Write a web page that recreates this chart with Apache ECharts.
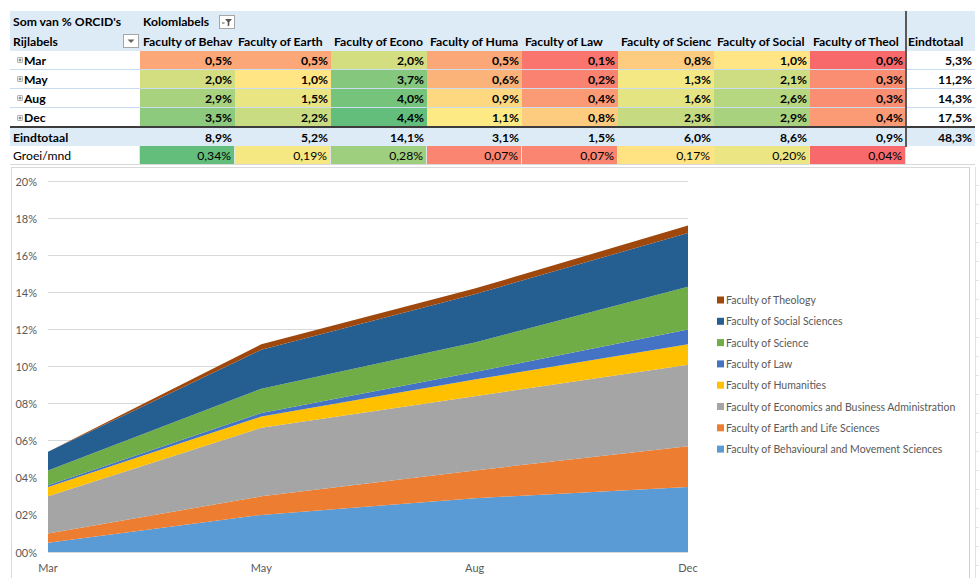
<!DOCTYPE html>
<html>
<head>
<meta charset="utf-8">
<script src="https://cdn.jsdelivr.net/npm/echarts@6/dist/echarts.min.js"></script>
<style>
html, body { margin: 0; padding: 0; background: #fff; }
body { width: 979px; height: 578px; position: relative; overflow: hidden; font-family: Lato, 'Open Sans', sans-serif; }
#pivot {
  position: absolute; left: 10px; top: 11px;
  display: grid;
  grid-template-columns: 130px 95px 96px 96px 95px 96px 96px 96px 96px 69px;
  grid-template-rows: 21px;
  grid-auto-rows: 19px;
  font-size: 12.2px; color: #000;
}
.c {
  box-sizing: border-box; white-space: nowrap; overflow: hidden;
  display: flex; align-items: center; padding: 0 3px;
  border-bottom: 1px solid #c9dcf0; position: relative;
}
.hd { background: #ddebf7; font-weight: bold; border-bottom: none; }
.num { justify-content: flex-end; font-weight: bold; }
.lbl { font-weight: bold; }
.tot { background: #ddebf7; }
.grow { font-weight: normal; border-bottom: 1px solid #d9d9d9; border-right: 1px solid #e4e4e4; }
.plus { display: inline-block; width: 6px; height: 6px; margin: 0 1px 0 0; flex: none; }
.icon { position: absolute; top: 2px; }
#darkv { position: absolute; left: 905px; top: 11px; width: 1.5px; height: 136px; background: #5a5a5a; }
#darkh { position: absolute; left: 10px; top: 126px; width: 965px; height: 1.5px; background: #3c3c3c; }
#chart { position: absolute; left: 11px; top: 167px; width: 959px; height: 411px;
  border-left: 1px solid #d9d9d9; border-top: 1px solid #d9d9d9; border-right: 1px solid #d0d0d0; box-sizing: border-box; }
#cells { position: absolute; left: 975px; top: 167px; width: 4px; height: 411px; border-left: 1px solid #e2e2e2;
  background: repeating-linear-gradient(to bottom, transparent 0 18px, #e2e2e2 18px 19px); }
</style>
</head>
<body>
<div id="pivot"></div>
<div id="darkv"></div>
<div id="darkh"></div>
<div id="chart"></div>
<div id="cells"></div>
<script>
// maanden en faculteiten
const months = ['Mar', 'May', 'Aug', 'Dec'];
const faculties = [
  'Faculty of Behavioural and Movement Sciences',
  'Faculty of Earth and Life Sciences',
  'Faculty of Economics and Business Administration',
  'Faculty of Humanities',
  'Faculty of Law',
  'Faculty of Science',
  'Faculty of Social Sciences',
  'Faculty of Theology'
];
// kolomkoppen zoals ze in de smalle kolommen zichtbaar zijn
const headerLabels = [
  'Faculty of Behav', 'Faculty of Earth', 'Faculty of Econo', 'Faculty of Huma',
  'Faculty of Law', 'Faculty of Scienc', 'Faculty of Social', 'Faculty of Theol'
];

// % ORCID's per maand (Mar, May, Aug, Dec)
const behavioural = [0.5, 2.0, 2.9, 3.5];
const earth = [0.5, 1.0, 1.5, 2.2];
const economics = [2.0, 3.7, 4.0, 4.4];
const humanities = [0.5, 0.6, 0.9, 1.1];
const law = [0.1, 0.2, 0.4, 0.8];
const science = [0.8, 1.3, 1.6, 2.3];
const social = [1.0, 2.1, 2.6, 2.9];
const theology = [0.0, 0.3, 0.3, 0.4];

const rowTotals = [5.3, 11.2, 14.3, 17.5];
const colTotals = [8.9, 5.2, 14.1, 3.1, 1.5, 6.0, 8.6, 0.9];
const grandTotal = 48.3;
const growth = [0.34, 0.19, 0.28, 0.07, 0.07, 0.17, 0.20, 0.04];

const yTicks = { min: 0, max: 20, interval: 2 };

const series = [behavioural, earth, economics, humanities, law, science, social, theology];
const colors = ['#5b9bd5', '#ed7d31', '#a5a5a5', '#ffc000', '#4472c4', '#70ad47', '#255e91', '#9e480e'];

// excel 3-kleurenschaal (rood - geel - groen, midden = 50e percentiel)
const RED = [248, 105, 107], YEL = [255, 235, 132], GRN = [99, 190, 123];
function colorScale (vals) {
  const s = [...vals].sort((a, b) => a - b);
  const pos = (s.length - 1) * 0.5;
  const lo = Math.floor(pos);
  const mid = s[lo] + (s[Math.min(lo + 1, s.length - 1)] - s[lo]) * (pos - lo);
  const min = s[0], max = s[s.length - 1];
  const mix = (a, b, t) => 'rgb(' + a.map((x, i) => Math.round(x + (b[i] - x) * t)).join(',') + ')';
  return v => v <= mid
    ? mix(RED, YEL, mid === min ? 1 : (v - min) / (mid - min))
    : mix(YEL, GRN, (v - mid) / (max - mid));
}

const fmt = (v, d) => v.toFixed(d).replace('.', ',') + '%';
const plusIcon = '<svg class="plus" viewBox="0 0 7 7"><rect x="0.5" y="0.5" width="6" height="6" rx="1" fill="#f2f2f2" stroke="#9a9a9a"/><path d="M2 3.5h3M3.5 2v3" stroke="#555" stroke-width="0.9"/></svg>';
const dropIcon = '<svg class="icon" style="left:113px;top:2px" width="16" height="14"><rect x="0.5" y="0.5" width="15" height="13" fill="#fff" stroke="#a6a6a6"/><path d="M4.5 5.5h7l-3.5 3.5z" fill="#666"/></svg>';
const filterIcon = '<svg class="icon" style="left:79px;top:4px" width="16" height="14"><rect x="0.5" y="0.5" width="15" height="13" fill="#fff" stroke="#a6a6a6"/><path d="M6 4h7l-2.7 3v3.5l-1.6 1v-4.5z" fill="#555"/><path d="M3 8h2.5" stroke="#555"/></svg>';

const pivot = document.getElementById('pivot');
function cell (html, cls, style) {
  const d = document.createElement('div');
  d.className = 'c ' + (cls || '');
  if (style) d.style.cssText = style;
  d.innerHTML = html;
  pivot.appendChild(d);
  return d;
}

// kopregels
cell("Som van % ORCID's", 'hd');
cell('Kolomlabels' + filterIcon, 'hd');
for (let i = 1; i < faculties.length; i++) cell('', 'hd');
cell('', 'hd');
cell('Rijlabels' + dropIcon, 'hd');
headerLabels.forEach(f => cell(f, 'hd', 'padding-left:3px'));
cell('Eindtotaal', 'hd', 'padding-left:2px');

// maandregels
const block = colorScale(series.flat());
months.forEach((m, r) => {
  cell(plusIcon + m, 'lbl', 'padding-left:7px' + (r === 3 ? ';border-bottom:none' : ''));
  series.forEach(vals => {
    cell(fmt(vals[r], 1), 'num', 'background:' + block(vals[r]) + (r === 3 ? ';border-bottom:none' : ''));
  });
  cell(fmt(rowTotals[r], 1), 'num', r === 3 ? 'border-bottom:none' : '');
});

// eindtotaal
cell('Eindtotaal', 'lbl tot', 'border-bottom:none;padding-top:2px');
colTotals.forEach(v => cell(fmt(v, 1), 'num tot', 'border-bottom:none;padding-top:2px'));
cell(fmt(grandTotal, 1), 'num tot', 'border-bottom:none;padding-top:2px');

// groei per maand
const gscale = colorScale(growth);
cell('Groei/mnd', 'grow');
growth.forEach(v => cell(fmt(v, 2), 'num grow', 'background:' + gscale(v)));
cell('', 'grow', 'border-right:none');

// grafiek
const chart = echarts.init(document.getElementById('chart'), null, { renderer: 'svg' });
const option = {
  animation: false,
  color: colors,
  textStyle: { fontFamily: 'Lato' },
  grid: { left: 36, right: 281, top: 13, bottom: 26 },
  legend: {
    orient: 'vertical',
    left: 700,
    top: 120,
    data: [...faculties].reverse(),
    icon: 'rect',
    itemWidth: 7,
    itemHeight: 7,
    itemGap: 7.3,
    selectedMode: false,
    textStyle: { color: '#595959', fontSize: 10.5, lineHeight: 14, padding: [0, 0, 0, -3] }
  },
  xAxis: {
    type: 'category',
    data: months,
    boundaryGap: false,
    axisLine: { show: false },
    axisTick: { show: false },
    axisLabel: { color: '#595959', fontSize: 11, margin: 10 }
  },
  yAxis: {
    type: 'value',
    min: yTicks.min,
    max: yTicks.max,
    interval: yTicks.interval,
    axisLine: { show: false },
    axisTick: { show: false },
    axisLabel: { color: '#595959', fontSize: 11, margin: 11, formatter: v => String(v).padStart(2, '0') + '%' },
    splitLine: { lineStyle: { color: '#d9d9d9', width: 1 } }
  },
  series: series.map((vals, i) => ({
    name: faculties[i],
    type: 'line',
    stack: 'total',
    symbol: 'none',
    lineStyle: { width: 0 },
    areaStyle: { opacity: 1 },
    data: vals
  }))
};
chart.setOption(option);
</script>
</body>
</html>
